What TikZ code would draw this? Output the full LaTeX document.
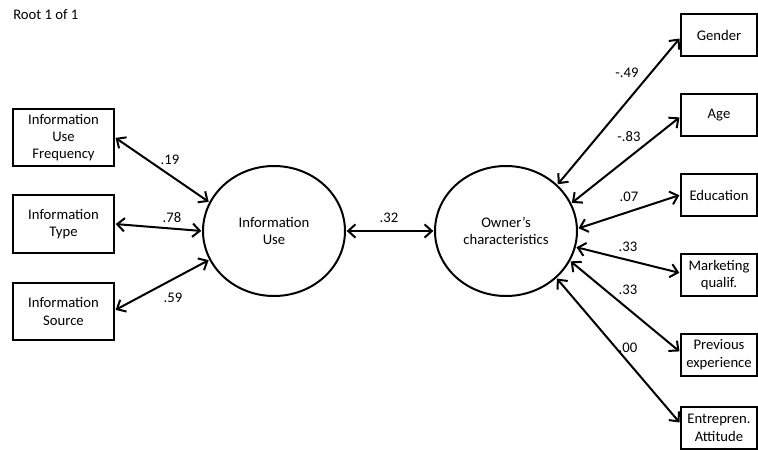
\documentclass[tikz,border=0pt]{standalone}
\usepackage{fontspec}
\setmainfont{Carlito}
\usetikzlibrary{arrows.meta,shapes.geometric}
\begin{document}
\begin{tikzpicture}[x=0.75pt,y=-0.75pt,
  every node/.style={font=\fontsize{11}{13}\selectfont},
  obs/.style={draw,line width=1.5pt,align=center,inner sep=0pt},
  obsL/.style={obs,minimum width=75.75pt,minimum height=43pt},
  obsR/.style={obs,minimum width=57pt,minimum height=31.5pt},
  lat/.style={draw,ellipse,line width=1.5pt,align=center,inner sep=0pt,
    minimum width=106.5pt,minimum height=97.5pt},
  link/.style={line width=1.5pt,
    {Straight Barb[length=5.5pt,width=10pt]}-{Straight Barb[length=5.5pt,width=10pt]},
    shorten >=0.5pt,shorten <=0.5pt},
  coef/.style={inner sep=0pt}]
\useasboundingbox (0,0) rectangle (758,450);

% title
\node[coef,anchor=west] (root) at (13,15) {Root 1 of 1};

% indicators of information use
\node[obsL] (iuf) at (63.5,137.5) {Information\\Use\\Frequency};
\node[obsL] (it)  at (63.5,224)   {Information\\Type};
\node[obsL] (is)  at (63.5,311.5) {Information\\Source};

% latent variables
\node[lat] (iu) at (274,231) {Information\\Use};
\node[lat] (oc) at (506,231) {Owner’s\\characteristics};

% owner indicators
\node[obsR] (gen) at (719,35)    {Gender};
\node[obsR] (age) at (719,115)   {Age};
\node[obsR] (edu) at (719,195)   {Education};
\node[obsR] (mkt) at (719,275)   {Marketing\\qualif.};
\node[obsR] (prv) at (719,354.5) {Previous\\experience};
\node[obsR] (ent) at (719,428)   {Entrepren.\\Attitude};

% connectors
\draw[link] (iuf.east) -- (iu.156.6);
\draw[link] (it.east) -- (iu.west);
\draw[link] ([yshift=1pt]is.east) -- (iu.204.6);
\draw[link] (iu.east) -- (oc.west);
\draw[link] (oc.42.7) -- ([yshift=-2.25pt]gen.west);
\draw[link] (oc.23.4) -- ([yshift=-1.5pt]age.west);
\draw[link] (oc.2) -- (edu.west);
\draw[link] (oc.-13) -- ([yshift=1.5pt]mkt.west);
\draw[link] (oc.-25.5) -- ([yshift=2pt]prv.west);
\draw[link] (oc.-43) -- ([yshift=3.75pt]ent.west);

% coefficients
\node[coef] (c1) at (170,160) {.19};
\node[coef] (c2) at (172,218) {.78};
\node[coef] (c3) at (173,298) {.59};
\node[coef] (c4) at (389,218) {.32};
\node[coef] (c5) at (627,73)  {-.49};
\node[coef] (c6) at (629,137) {-.83};
\node[coef] (c7) at (629,197) {.07};
\node[coef] (c8) at (628,247) {.33};
\node[coef] (c9) at (628,290) {.33};
\node[coef] (c10) at (628,348) {.00};
\end{tikzpicture}
\end{document}
